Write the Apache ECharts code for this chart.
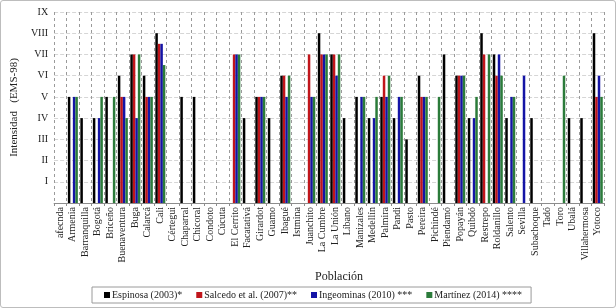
<!DOCTYPE html>
<html>
<head>
<meta charset="utf-8">
<script src="https://cdn.jsdelivr.net/npm/echarts@6/dist/echarts.min.js"></script>
<style>
html, body { margin: 0; padding: 0; background: #fff; }
#chart { width: 614px; height: 306px; border: 1px solid #bdbdbd; border-radius: 3px; }
</style>
</head>
<body>
<div id="chart"></div>
<script>
// poblaciones (eje x)
var poblacion = ["afecnda", "Armenia", "Barranquilla", "Bogotá", "Briceño", "Buenaventura", "Buga", "Calarcá", "Cali", "Cértegui",
	"Chaparral", "Chicoral", "Condoto", "Cúcuta", "El Cerrito", "Facatativá", "Girardot", "Guamo", "Ibagué", "Istmina",
	"Juanchito", "La Cumbre", "La Unión", "Líbano", "Manizales", "Medellín", "Palmira", "Pandi", "Pasto", "Pereira",
	"Pichindé", "Piendamó", "Popayán", "Quibdó", "Restrepo", "Roldanillo", "Salento", "Sevilla", "Subachoque", "Tadó",
	"Toro", "Ubalá", "Villahermosa", "Yotoco"];

// intensidades EMS-98, null = sin dato
var espinosa = [null, 5, 4, 4, 5, 6, 7, 6, 8, null, 5, 5, null, null, null, 4, 5, 4, 6, null,
	null, 8, 7, 4, 5, 4, 5, 4, 3, 6, null, 7, 6, 4, 8, 7, 4, null, 4, null, null, 4, 4, 8];
var salcedo = [null, null, null, null, null, 5, 7, 5, 7.5, null, null, null, null, null, 7, null, 5, null, 6, null,
	7, 7, 7, null, null, null, 6, null, null, 5, null, null, 6, null, 7, 6, null, null, null, null, null, null, null, 5];
var ingeominas = [null, 5, null, 4, null, 5, 4, 5, 7.5, null, null, null, null, null, 7, null, 5, null, 5, null,
	5, 7, 6, null, 5, 4, 5, 5, null, 5, null, null, 6, 4, null, 7, 5, 6, null, null, null, null, null, 6];
var martinez = [null, 5, null, 5, 5, 4, 7, 5, 6.5, null, null, null, null, null, 7, null, 5, null, 6, null,
	5, 7, 7, null, 5, 5, 6, 5, null, 5, 5, null, 6, 5, 7, 6, 5, null, null, null, 6, null, null, 5];

// etiquetas eje y
var romanos = ["", "I", "II", "III", "IV", "V", "VI", "VII", "VIII", "IX"];

var serie_nombres = ["Espinosa (2003)*", "Salcedo et al. (2007)**", "Ingeominas (2010) ***", "Martínez (2014) ****"];
var serie_colores = ["#000000", "#c0151b", "#1414a6", "#2b7b3a"];
var serie_datos = [espinosa, salcedo, ingeominas, martinez];

var fuente = "'Liberation Serif', 'DejaVu Serif', serif";

var series = [];
for (var i = 0; i < serie_datos.length; i++) {
	series.push({
		name: serie_nombres[i],
		type: "bar",
		barGap: 0,
		barCategoryGap: "20%",
		itemStyle: { color: serie_colores[i] },
		data: serie_datos[i]
	});
}

var chart = echarts.init(document.getElementById("chart"));
var option = {
	animation: false,
	textStyle: { fontFamily: fuente },
	color: serie_colores,
	grid: { left: 41, right: 11, top: 11, bottom: 104 },
	legend: {
		left: 91,
		top: 286,
		width: 560,
		padding: [3, 9, 3, 12],
		borderColor: "#9a9a9a",
		borderWidth: 1,
		icon: "rect",
		itemWidth: 6,
		itemHeight: 6,
		itemGap: 14,
		textStyle: { fontFamily: fuente, fontSize: 10, color: "#222", padding: [0, 0, 0, -3] },
		data: serie_nombres
	},
	xAxis: {
		type: "category",
		data: poblacion,
		boundaryGap: true,
		name: "Población",
		nameLocation: "middle",
		nameGap: 64,
		nameTextStyle: { fontFamily: fuente, fontSize: 12, color: "#222", padding: [0, 0, 0, 20] },
		axisLine: { show: true, lineStyle: { color: "#8c8c8c" } },
		axisTick: { show: true, interval: 0, length: 3, lineStyle: { color: "#8c8c8c" } },
		axisLabel: { interval: 0, rotate: 90, fontSize: 10, color: "#222", margin: 4, fontFamily: fuente },
		splitLine: { show: true, interval: 0, lineStyle: { color: "#9a9a9a", type: [3, 3], width: 1 } }
	},
	yAxis: {
		type: "value",
		min: 0,
		max: 9,
		interval: 1,
		name: "Intensidad   (EMS-98)",
		nameLocation: "middle",
		nameGap: 24,
		nameTextStyle: { fontFamily: fuente, fontSize: 11, color: "#222" },
		axisLine: { show: false },
		axisTick: { show: false },
		axisLabel: {
			fontSize: 10,
			color: "#222",
			margin: 6,
			fontFamily: fuente,
			formatter: function (v) { return romanos[v] || ""; }
		},
		splitLine: { show: true, lineStyle: { color: "#d6d6d6", type: [4, 2] } }
	},
	series: series
};
chart.setOption(option);
</script>
</body>
</html>
